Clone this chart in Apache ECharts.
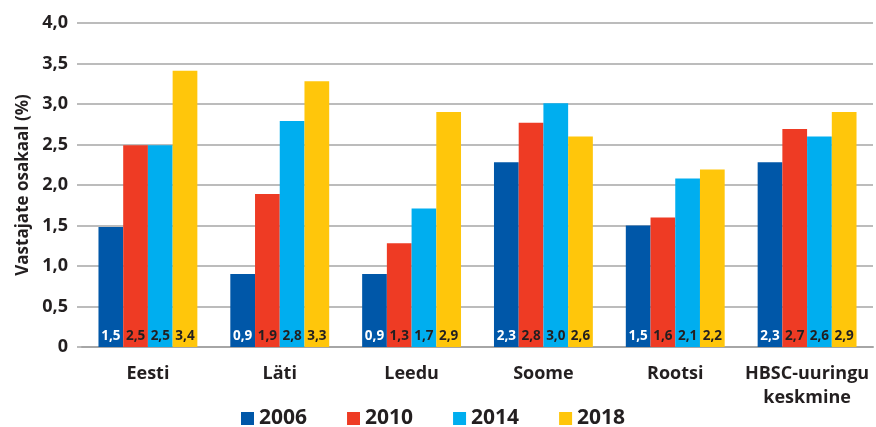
<!DOCTYPE html>
<html>
<head>
<meta charset="utf-8">
<script src="https://cdn.jsdelivr.net/npm/echarts@6/dist/echarts.min.js"></script>
<style>
html, body { margin: 0; padding: 0; background: #fff; }
#main { width: 876px; height: 427px; }
</style>
</head>
<body>
<div id="main"></div>
<script>
/* andmed */
let riigid = ['Eesti', 'Läti', 'Leedu', 'Soome', 'Rootsi', 'HBSC-uuringu\nkeskmine'];
let aastad = ['2006', '2010', '2014', '2018'];
let v2006 = [1.48, 0.90, 0.90, 2.28, 1.50, 2.28];
let v2010 = [2.49, 1.89, 1.28, 2.77, 1.60, 2.69];
let v2014 = [2.49, 2.79, 1.71, 3.01, 2.08, 2.60];
let v2018 = [3.41, 3.28, 2.90, 2.60, 2.19, 2.90];
let varvid = ['#0057A8', '#EE3B24', '#00AEEF', '#FFC60B'];
let sildiVarv = ['#ffffff', '#231F20', '#231F20', '#231F20'];

let font = '"Open Sans", sans-serif';
let tekst = '#231F20';

function koma(v) {
  return v.toFixed(1).replace('.', ',');
}

/* seeriad */
let andmed = [v2006, v2010, v2014, v2018];
let seeriad = [];
for (let i = 0; i < aastad.length; i++) {
  seeriad.push({
    name: aastad[i],
    type: 'bar',
    data: andmed[i],
    barGap: 0,
    barCategoryGap: '25%',
    itemStyle: {color: varvid[i]},
    label: {
      show: true,
      position: 'insideBottom',
      distance: 4,
      color: sildiVarv[i],
      fontFamily: font,
      fontWeight: 'bold',
      fontSize: 13.5,
      formatter: p => koma(p.value)
    }
  });
}

var myChart = echarts.init(document.getElementById('main'));
option = {
  animation: false,
  textStyle: {fontFamily: font},
  grid: {left: 82, right: 3, top: 23, bottom: 80},
  legend: {
    data: aastad,
    left: 236,
    top: 403,
    icon: 'rect',
    itemWidth: 13,
    itemHeight: 13,
    itemGap: 40,
    textStyle: {fontFamily: font, fontWeight: 'bold', fontSize: 21, color: tekst}
  },
  xAxis: {
    type: 'category',
    data: riigid,
    axisTick: {show: false},
    axisLine: {lineStyle: {color: '#a6a6a6', width: 2}},
    axisLabel: {
      margin: 15,
      color: tekst,
      fontFamily: font,
      fontWeight: 'bold',
      fontSize: 18,
      lineHeight: 24,
      interval: 0
    }
  },
  yAxis: {
    type: 'value',
    min: 0,
    max: 4,
    interval: 0.5,
    name: 'Vastajate osakaal (%)',
    nameLocation: 'middle',
    nameRotate: 90,
    nameGap: 47,
    nameTextStyle: {color: tekst, fontFamily: font, fontWeight: 'bold', fontSize: 17},
    axisLine: {show: false},
    axisTick: {show: true, length: 5, lineStyle: {color: '#a6a6a6', width: 1.5}},
    splitLine: {lineStyle: {color: '#a6a6a6', width: 1.5}},
    axisLabel: {
      margin: 14,
      color: tekst,
      fontFamily: font,
      fontWeight: 'bold',
      fontSize: 18,
      formatter: v => v === 0 ? '0' : koma(v)
    }
  },
  series: seeriad
};
myChart.setOption(option);
</script>
</body>
</html>
